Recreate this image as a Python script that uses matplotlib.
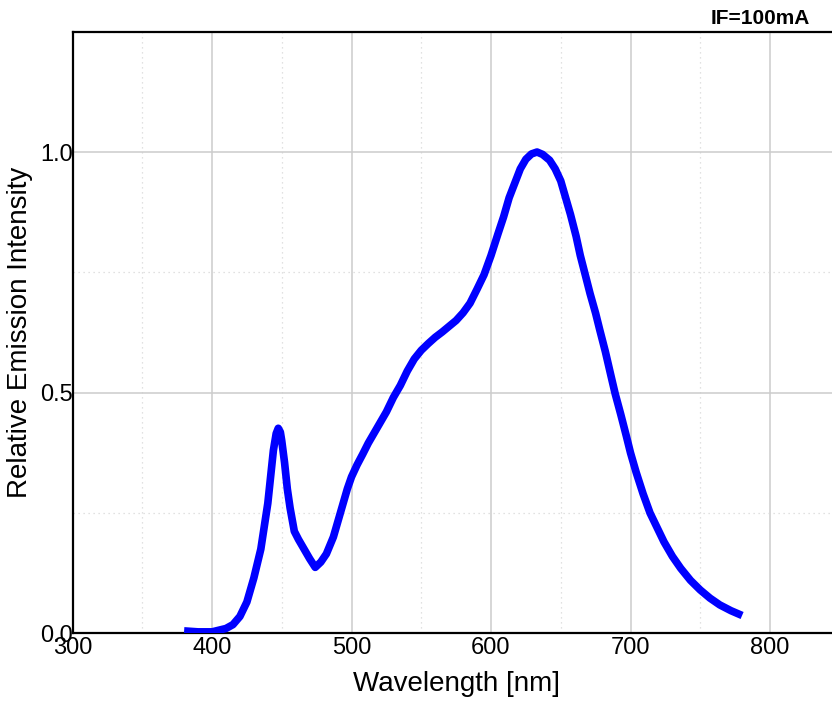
import matplotlib
matplotlib.use("Agg")
import matplotlib.pyplot as plt
from matplotlib.ticker import MultipleLocator, FormatStrFormatter

plt.rcParams["font.family"] = ["Liberation Sans", "DejaVu Sans"]

# spectrum (wavelength nm, relative intensity)
wavelength = [380, 390, 400, 410, 415, 420, 425, 430, 435, 440, 444, 446,
              447.5, 449, 450, 452, 454, 456, 459, 462, 466, 470, 474, 478,
              482, 487, 491, 494, 497, 500, 504, 508, 512, 516, 520, 525,
              530, 535, 540, 545, 550, 555, 560, 565, 570, 575, 580, 585,
              590, 595, 600, 605, 609, 613, 617, 621, 625, 629, 633, 637,
              642, 646, 650, 654, 657, 661, 664, 668, 671, 675, 678, 682,
              686, 689, 693, 697, 700, 704, 709, 714, 719, 724, 730, 736,
              743, 750, 757, 764, 772, 780]
intensity = [0.005, 0.003, 0.003, 0.010, 0.018, 0.035, 0.065, 0.115, 0.175,
             0.27, 0.38, 0.415, 0.426, 0.418, 0.40, 0.355, 0.30, 0.26, 0.212,
             0.195, 0.175, 0.155, 0.137, 0.148, 0.165, 0.20, 0.24, 0.27, 0.30,
             0.325, 0.35, 0.372, 0.395, 0.415, 0.435, 0.46, 0.49, 0.515,
             0.545, 0.57, 0.588, 0.602, 0.615, 0.626, 0.638, 0.65, 0.666,
             0.686, 0.715, 0.745, 0.785, 0.83, 0.865, 0.905, 0.935, 0.965,
             0.985, 0.996, 1.0, 0.995, 0.983, 0.965, 0.94, 0.90, 0.87, 0.825,
             0.785, 0.74, 0.706, 0.665, 0.63, 0.585, 0.535, 0.498, 0.455,
             0.41, 0.375, 0.335, 0.29, 0.25, 0.22, 0.19, 0.16, 0.135, 0.11,
             0.09, 0.073, 0.059, 0.047, 0.037]

fig = plt.figure(figsize=(8.32, 7.06), dpi=100)
fig.patch.set_facecolor("white")
# axes run past the right edge of the picture, like the reference
ax = fig.add_axes([72.5 / 832, 1 - 633.3 / 706, (839.75 - 72.5) / 832, (633.3 - 31.7) / 706])

ax.plot(wavelength, intensity, color="#0000ff", linewidth=5.5,
        solid_joinstyle="round", solid_capstyle="butt", zorder=3)

ax.set_xlim(300, 850)
ax.set_ylim(0, 1.25)
ax.xaxis.set_major_locator(MultipleLocator(100))
ax.xaxis.set_minor_locator(MultipleLocator(50))
ax.yaxis.set_major_locator(MultipleLocator(0.5))
ax.yaxis.set_minor_locator(MultipleLocator(0.25))
ax.yaxis.set_major_formatter(FormatStrFormatter("%.1f"))

ax.grid(True, which="major", color="#cccccc", linewidth=1.1, linestyle="-")
ax.grid(True, which="minor", color="#d8d8d8", linewidth=0.9, linestyle=(0, (1, 3)))
ax.set_axisbelow(True)

ax.tick_params(which="both", length=0)
ax.tick_params(axis="x", labelsize=17, pad=3)
ax.tick_params(axis="y", labelsize=17, pad=0)

for s in ax.spines.values():
    s.set_linewidth(1.6)
    s.set_color("black")

ax.set_xlabel("Wavelength [nm]", fontsize=20, labelpad=8)
ax.set_ylabel("Relative Emission Intensity", fontsize=20, labelpad=5)

fig.text(810 / 832, 1 - 24 / 706, "IF=100mA", fontsize=15, fontweight="bold",
         ha="right", va="baseline")

fig.savefig("out.png", dpi=100)
